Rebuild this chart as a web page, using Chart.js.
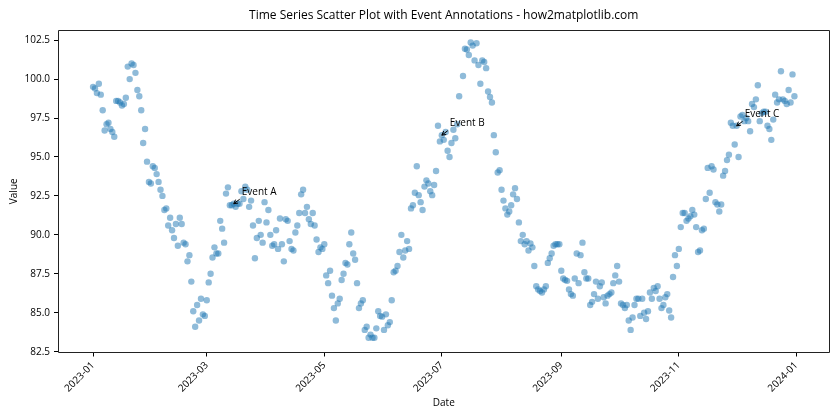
<!DOCTYPE html>
<html>
<head>
<meta charset="utf-8">
<script src="https://cdn.jsdelivr.net/npm/chart.js@4.4.0/dist/chart.umd.min.js"></script>
<style>
html, body { margin: 0; padding: 0; background: #fff; }
</style>
</head>
<body>
<canvas id="myChart" width="840" height="420"></canvas>
<script>
// one reading per day of 2023, index = day of year (0 = 2023-01-01)
const values = [
  99.5, 99.4, 99.1, 99.7, 99.0, 98.0, 96.7, 97.1, 97.2, 96.8,
  96.6, 96.3, 98.6, 98.6, 98.5, 98.3, 98.4, 98.8, 100.8, 100.0,
  101.0, 100.9, 100.4, 99.3, 98.9, 98.0, 95.9, 96.8, 94.7, 93.4,
  93.3, 94.4, 94.3, 93.9, 93.4, 92.9, 92.5, 91.6, 91.7, 90.6,
  91.1, 90.3, 89.8, 90.7, 89.3, 91.1, 90.7, 89.5, 89.4, 88.3,
  88.7, 87.0, 85.1, 84.1, 85.5, 84.5, 85.9, 84.9, 84.8, 85.8,
  86.95, 87.5, 88.55, 89.2, 88.8, 88.8, 90.9, 90.4, 89.5, 92.65,
  93.05, 91.9, 91.9, 92.0, 91.8, 92.0, 92.0, 92.8, 92.3, 93.1,
  92.9, 91.8, 92.2, 90.6, 88.5, 89.8, 90.9, 90.0, 89.5, 92.1,
  90.8, 91.6, 90.0, 89.3, 89.4, 90.3, 89.1, 91.05, 89.4, 88.3,
  91.0, 90.9, 89.6, 89.1, 89.0, 90.15, 90.6, 91.4, 92.6, 92.9,
  91.4, 91.8, 91.0, 90.7, 91.4, 90.6, 89.7, 88.9, 89.2, 89.1,
  89.4, 87.4, 86.9, 87.7, 86.1, 85.3, 84.5, 85.6, 85.9, 87.1,
  87.5, 88.2, 88.1, 89.4, 90.15, 88.8, 88.4, 86.9, 85.3, 85.6,
  85.8, 83.9, 84.1, 83.4, 83.6, 83.4, 83.4, 84.0, 85.1, 84.8,
  84.75, 83.9, 84.9, 84.2, 84.4, 85.8, 87.6, 87.7, 88.0, 88.9,
  90.0, 88.55, 89.0, 89.6, 89.1, 91.7, 91.9, 92.7, 94.4, 92.55,
  92.1, 91.6, 93.1, 93.5, 93.3, 92.8, 92.55, 93.2, 94.1, 97.0,
  96.0, 96.4, 96.1, 96.6, 95.4, 95.0, 95.9, 96.75, 96.2, 97.1,
  98.9, null, 100.2, 101.95, 101.9, 101.55, 102.35, 102.15, 101.2, 102.3,
  100.9, 99.7, 101.2, 101.1, 100.7, 99.2, 98.85, 98.5, 96.4, 95.3,
  94.0, 94.15, 92.9, 92.2, 91.7, 91.3, 91.5, 91.9, 92.6, 93.0,
  92.3, 90.8, 89.6, 90.0, 89.4, 89.6, 89.0, 89.45, 89.2, 88.0,
  86.7, 86.5, 86.4, 86.3, 86.5, 86.7, 88.2, 88.5, 88.8, 89.3,
  89.4, 89.4, 89.4, 87.7, 87.2, 87.1, 87.05, 86.5, 86.2, 86.1,
  87.2, 88.8, 86.9, 88.7, 89.5, 87.6, 87.2, 87.2, 85.5, 85.7,
  86.2, 87.0, 85.9, 86.7, 86.95, 86.0, 85.6, 86.1, 86.2, 86.3,
  86.9, 87.4, 88.0, 87.0, 85.6, 85.5, 85.3, 85.5, 84.5, 83.9,
  84.7, 85.5, 85.9, 85.9, 84.8, 85.9, 85.0, 84.6, 85.1, 86.3,
  85.9, 86.6, 86.4, 86.7, 85.9, 85.3, 85.5, 86.0, 86.2, 85.15,
  84.7, 87.3, 88.7, 88.0, 89.1, 90.5, 91.4, 91.4, 90.9, 91.05,
  91.2, 91.6, 91.3, 90.5, 88.9, 89.0, 90.3, 90.4, 92.3, 94.3,
  92.7, 94.4, 94.2, 92.1, 91.95, 91.5, 91.95, 93.8, 94.1, 94.8,
  95.15, 97.2, 97.0, 95.8, 97.0, 95.0, 97.6, 97.7, 97.3, 97.5,
  97.3, 96.65, 98.4, 98.2, 98.7, 99.6, 97.3, 97.8, 97.9, 97.9,
  97.0, 96.8, 96.1, 97.4, 99.0, 98.5, 98.7, 100.5, 98.7, 98.6,
  98.4, 99.3, 98.5, 100.3, 98.9
];

const xTickDays = [0, 59, 120, 181, 243, 304, 365];
const xTickLabels = ['2023-01', '2023-03', '2023-05', '2023-07', '2023-09', '2023-11', '2024-01'];
const yTicks = [82.5, 85.0, 87.5, 90.0, 92.5, 95.0, 97.5, 100.0, 102.5];

const eventDays = [73, 181, 334];
const eventLabels = ['Event A', 'Event B', 'Event C'];

const FONT = "'Open Sans', 'Liberation Sans', sans-serif";

const points = [];
values.forEach((v, i) => { if (v !== null) points.push({x: i, y: v}); });

// axes box all round + the three arrows with their labels
const framePlugin = {
  id: 'frameAndEvents',
  afterDatasetsDraw(chart) {
    const ctx = chart.ctx;
    const a = chart.chartArea;
    const xs = chart.scales.x, ys = chart.scales.y;
    const l = Math.round(a.left) + 0.5, r = Math.round(a.right) - 0.5;
    const t = Math.round(a.top) + 0.5, b = Math.round(a.bottom) - 0.5;
    ctx.save();
    ctx.strokeStyle = '#222';
    ctx.lineWidth = 1;
    ctx.beginPath();
    ctx.moveTo(l, t); ctx.lineTo(r, t); ctx.lineTo(r, b); ctx.lineTo(l, b); ctx.closePath();
    ctx.stroke();

    ctx.fillStyle = '#000';
    ctx.strokeStyle = '#000';
    ctx.font = '10px ' + FONT;
    ctx.textBaseline = 'middle';
    ctx.textAlign = 'left';
    eventDays.forEach((d, i) => {
      const px = xs.getPixelForValue(d);
      const py = ys.getPixelForValue(values[d]);
      const sx = px + 6, sy = py - 4.5;
      ctx.beginPath();
      ctx.moveTo(sx, sy);
      ctx.lineTo(px, py);
      const ang = Math.atan2(sy - py, sx - px);
      const hl = 4.5;
      ctx.moveTo(px + hl * Math.cos(ang + 0.5), py + hl * Math.sin(ang + 0.5));
      ctx.lineTo(px, py);
      ctx.lineTo(px + hl * Math.cos(ang - 0.5), py + hl * Math.sin(ang - 0.5));
      ctx.stroke();
      ctx.fillText(eventLabels[i], px + 8, py - 12);
    });
    ctx.restore();
  }
};

const ctx = document.getElementById('myChart').getContext('2d');
const myChart = new Chart(ctx, {
  type: 'scatter',
  data: {
    datasets: [{
      data: points,
      backgroundColor: 'rgba(31, 119, 180, 0.5)',
      borderWidth: 0,
      pointRadius: 3.2,
      pointHoverRadius: 3.2
    }]
  },
  options: {
    responsive: false,
    animation: false,
    layout: { padding: { left: 0, right: 10.5, top: 0, bottom: 0 } },
    plugins: {
      legend: { display: false },
      tooltip: { enabled: false },
      title: {
        display: true,
        fullSize: false,
        text: 'Time Series Scatter Plot with Event Annotations - how2matplotlib.com',
        color: '#000',
        font: { family: FONT, size: 12, weight: 'normal' },
        padding: { top: 8, bottom: 7.6 }
      }
    },
    scales: {
      x: {
        type: 'linear',
        min: -18.2,
        max: 382.2,
        afterBuildTicks: s => { s.ticks = xTickDays.map(v => ({value: v})); },
        afterFit: s => { s.height = 67.5; },
        grid: { drawOnChartArea: false, drawTicks: true, tickLength: 4, tickColor: '#000' },
        border: { display: false },
        ticks: {
          autoSkip: false,
          minRotation: 45,
          maxRotation: 45,
          padding: 3,
          color: '#000',
          font: { family: FONT, size: 10 },
          callback: (v, i) => xTickLabels[i]
        },
        title: {
          display: true,
          text: 'Date',
          color: '#000',
          font: { family: FONT, size: 10 },
          padding: { top: 0, bottom: 11 }
        }
      },
      y: {
        min: 82.45,
        max: 103.15,
        afterBuildTicks: s => { s.ticks = yTicks.map(v => ({value: v})); },
        afterFit: s => { s.width = 58; },
        grid: { drawOnChartArea: false, drawTicks: true, tickLength: 4, tickColor: '#000' },
        border: { display: false },
        ticks: {
          padding: 4,
          color: '#000',
          font: { family: FONT, size: 10 },
          callback: v => v.toFixed(1)
        },
        title: {
          display: true,
          text: 'Value',
          color: '#000',
          font: { family: FONT, size: 10 },
          padding: { top: 8, bottom: 0 }
        }
      }
    }
  },
  plugins: [framePlugin]
});
</script>
</body>
</html>
